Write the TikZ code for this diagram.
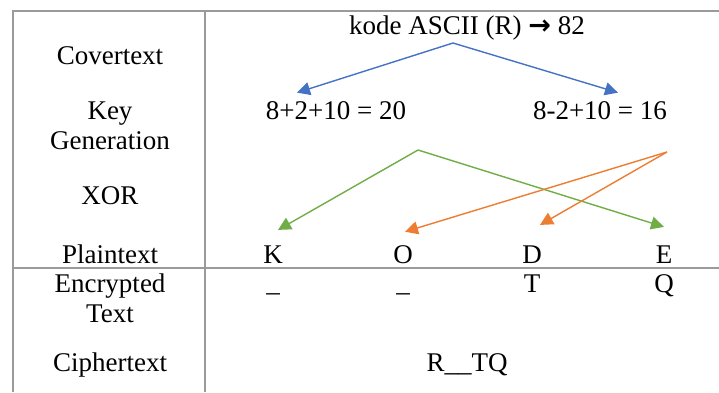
\documentclass[tikz,border=0pt]{standalone}
\usepackage{fontspec}
\setmainfont{Liberation Serif}
\newfontfamily\arrowfont{DejaVu Sans}
\usetikzlibrary{arrows.meta}
\definecolor{keyblue}{HTML}{4472C4}
\definecolor{xorgreen}{HTML}{70AD47}
\definecolor{xororange}{HTML}{ED7D31}
\definecolor{rulegray}{HTML}{9A9A9A}

\begin{document}
\begin{tikzpicture}[x=0.5pt,y=-0.5pt,
    every node/.style={inner sep=0pt,anchor=base,align=center,font=\fontsize{13.5}{15}\selectfont},
    rule/.style={draw=rulegray,line width=1pt},
    flow/.style={line width=0.7pt,-{Triangle[length=6.5pt,width=6.5pt]}}]
\useasboundingbox (0,0) rectangle (719,392);

% table lines
\draw[rule] (13,392) -- (13,11) -- (719,11);
\draw[rule] (205,11) -- (205,392);
\draw[rule] (13,268) -- (719,268);

% row labels
\node (lcover) at (110,64) {Covertext};
\node (lkey) at (110,149) {Key\\Generation};
\node (lxor) at (110,204) {XOR};
\node (lplain) at (110,263) {Plaintext};
\node (lenc) at (110,322) {Encrypted\\Text};
\node (lcipher) at (110,371) {Ciphertext};

% key generation
\node (asc) at (467,34) {kode ASCII (R) {\arrowfont\bfseries →} 82};
\node (kl) at (336,119) {8+2+10 = 20};
\node (kr) at (600,119) {8-2+10 = 16};
\coordinate (split) at (453,43);

% plaintext
\node (pk) at (273,263) {K};
\node (po) at (403,263) {O};
\node (pd) at (532,263) {D};
\node (pe) at (664,263) {E};
\coordinate (gsrc) at (418,150);
\coordinate (osrc) at (667,152);

% encrypted text
\node (ek) at (273,291) {\_};
\node (eo) at (403,291) {\_};
\node (ed) at (532,292) {T};
\node (ee) at (664,292) {Q};
\node (cipher) at (467,371) {R\_\_TQ};

\draw[flow,keyblue] (split) -- ([xshift=-19.5pt,yshift=4pt]kl.north);
\draw[flow,keyblue] (split) -- ([xshift=9pt,yshift=4pt]kr.north);
\draw[flow,xorgreen] (gsrc) -- ([xshift=2.5pt,yshift=7.5pt]pk.north);
\draw[flow,xorgreen] (gsrc) -- ([yshift=9pt]pe.north);
\draw[flow,xororange] (osrc) -- ([xshift=1pt,yshift=6.5pt]po.north);
\draw[flow,xororange] (osrc) -- ([xshift=4pt,yshift=10pt]pd.north);
\end{tikzpicture}
\end{document}
